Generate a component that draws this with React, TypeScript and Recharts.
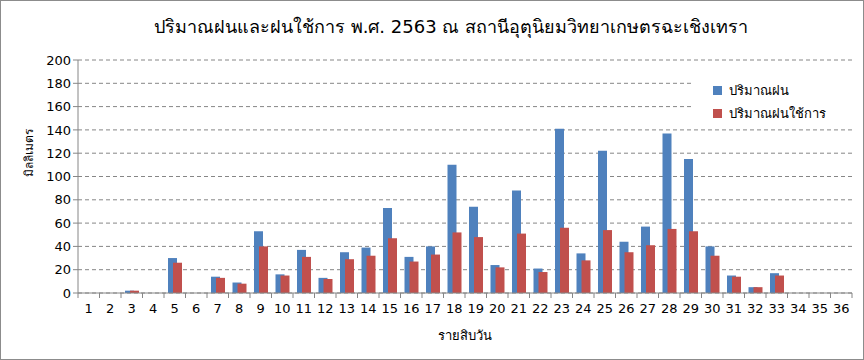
import { BarChart, Bar, XAxis, YAxis, CartesianGrid } from "recharts";

const periods = Array.from({ length: 36 }, (_, i) => String(i + 1));

const rainfall = [
  0, 0, 2, 0, 30, 0, 14, 9, 53, 16, 37, 13,
  35, 39, 73, 31, 40, 110, 74, 24, 88, 21, 141, 34,
  122, 44, 57, 137, 115, 40, 15, 5, 17, 0, 0, 0,
];

const effectiveRain = [
  0, 0, 2, 0, 26, 0, 13, 8, 40, 15, 31, 12,
  29, 32, 47, 27, 33, 52, 48, 22, 51, 18, 56, 28,
  54, 35, 41, 55, 53, 32, 14, 5, 15, 0, 0, 0,
];

const yTicks = [0, 20, 40, 60, 80, 100, 120, 140, 160, 180, 200];

const BLUE = "#4F81BD";
const RED = "#C0504D";
const AXIS = "#868686";
const FONT = "Tahoma, 'DejaVu Sans', 'Liberation Sans', sans-serif";

const data = periods.map((p, i) => ({
  name: p,
  rain: rainfall[i],
  used: effectiveRain[i],
}));

const PLOT_W = 774;
const BAND = PLOT_W / periods.length;

function PeriodTick(props: any) {
  const { x = 0, y = 0, payload, index } = props;
  const last = index === periods.length - 1;
  return (
    <g>
      <line x1={x - BAND / 2} x2={x - BAND / 2} y1={y - 8} y2={y - 3} stroke={AXIS} />
      {last && <line x1={x + BAND / 2} x2={x + BAND / 2} y1={y - 8} y2={y - 3} stroke={AXIS} />}
      <text x={x} y={y + 12} textAnchor="middle" fontSize={13} fill="#000" fontFamily={FONT}>
        {payload.value}
      </text>
    </g>
  );
}

const legendItems = [
  { label: "ปริมาณฝน", color: BLUE },
  { label: "ปริมาณฝนใช้การ", color: RED },
];

function LegendBox() {
  return (
    <div
      style={{
        position: "absolute",
        left: 690,
        top: 74,
        width: 150,
        padding: "4px 0 4px 22px",
        background: "#fff",
      }}
    >
      {legendItems.map((it) => (
        <div key={it.label} style={{ display: "flex", alignItems: "center", height: 23, fontSize: 13, fontFamily: FONT }}>
          <span style={{ width: 9, height: 9, background: it.color, marginRight: 7, display: "inline-block" }} />
          {it.label}
        </div>
      ))}
    </div>
  );
}

export default function App() {
  return (
    <div
      style={{
        position: "fixed",
        left: 0,
        top: 0,
        width: 862,
        height: 358,
        border: "1px solid #8c8c8c",
        background: "#fff",
        fontFamily: FONT,
      }}
    >
      <div
        style={{
          position: "absolute",
          top: 11,
          left: 0,
          width: 900,
          textAlign: "center",
          fontSize: 18,
          color: "#000",
        }}
      >
        ปริมาณฝนและฝนใช้การ พ.ศ. 2563 ณ สถานีอุตุนิยมวิทยาเกษตรฉะเชิงเทรา
      </div>
      <BarChart
        width={862}
        height={358}
        data={data}
        margin={{ top: 59, right: 11, bottom: 0, left: 0 }}
        barSize={9}
        barGap={-4}
      >
        <CartesianGrid vertical={false} stroke={AXIS} strokeDasharray="4 3" />
        <XAxis
          dataKey="name"
          stroke={AXIS}
          tickLine={false}
          tick={<PeriodTick />}
          interval={0}
          height={66}
          label={{ value: "รายสิบวัน", position: "insideTop", offset: 38, fill: "#000", fontSize: 13, fontFamily: FONT }}
        />
        <YAxis
          domain={[0, 200]}
          ticks={yTicks}
          width={77}
          stroke={AXIS}
          tickSize={5}
          tick={{ fill: "#000", fontSize: 13, fontFamily: FONT }}
          interval={0}
          label={{ value: "มิลลิเมตร", angle: -90, position: "insideLeft", offset: 28, fill: "#000", fontSize: 12, fontFamily: FONT }}
        />
        <Bar dataKey="rain" name="ปริมาณฝน" fill={BLUE} isAnimationActive={false} />
        <Bar dataKey="used" name="ปริมาณฝนใช้การ" fill={RED} isAnimationActive={false} />
      </BarChart>
      <LegendBox />
    </div>
  );
}
